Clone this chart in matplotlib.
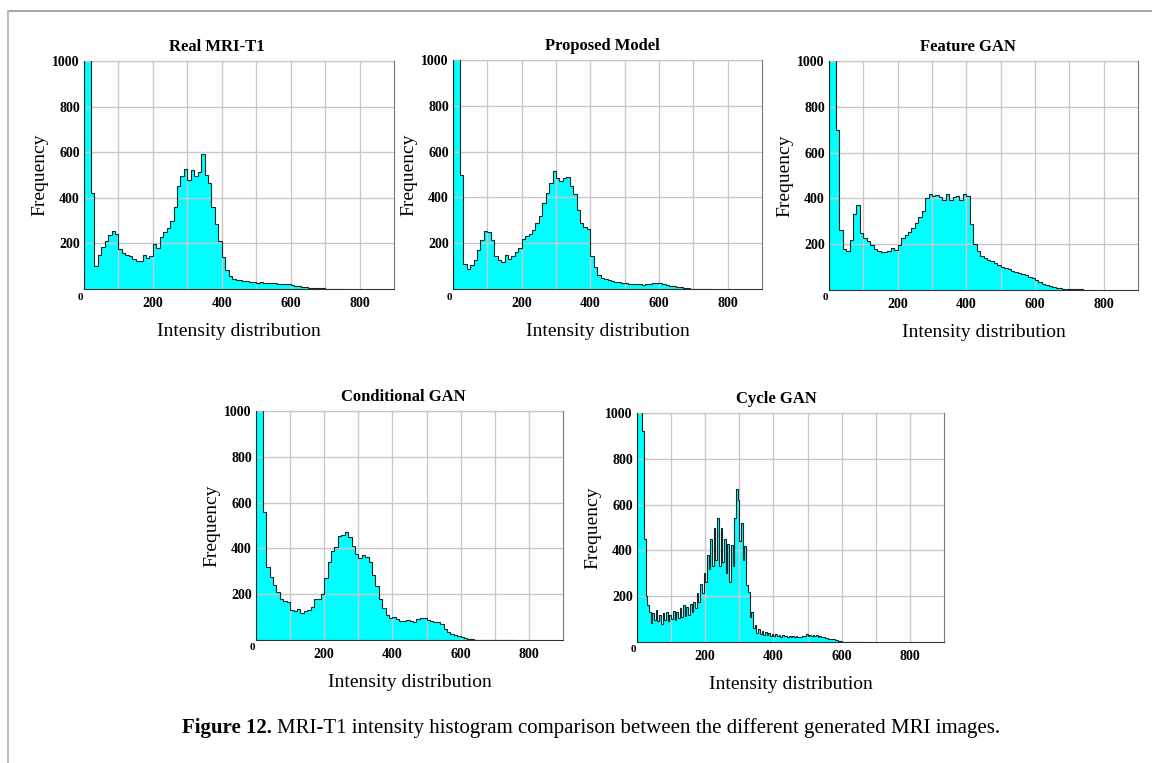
import numpy as np
import matplotlib.pyplot as plt
from matplotlib.lines import Line2D

plt.rcParams['font.family'] = 'Liberation Serif'

# histogram counts (10-unit bins, Cycle GAN 5-unit bins)
real_t1 = [5000, 3000, 420, 100, 150, 185, 212, 235, 255, 240,
           175, 157, 148, 143, 132, 125, 122, 148, 138, 145,
           198, 182, 228, 250, 268, 300, 360, 450, 495, 525,
           480, 520, 495, 515, 590, 500, 465, 360, 285, 210,
           140, 85, 58, 45, 40, 38, 35, 33, 30, 30,
           28, 30, 28, 27, 25, 25, 24, 23, 22, 22,
           18, 15, 12, 10, 8, 6, 5, 4, 3, 3,
           2, 2, 2, 1, 1, 1]

proposed = [5000, 2000, 500, 110, 87, 105, 125, 170, 215, 255,
            250, 215, 145, 128, 120, 150, 130, 145, 160, 180,
            220, 230, 242, 258, 288, 320, 375, 420, 465, 515,
            485, 470, 485, 490, 448, 415, 345, 290, 270, 260,
            145, 98, 62, 48, 42, 38, 36, 32, 30, 27,
            26, 24, 22, 21, 20, 19, 20, 22, 25, 28,
            26, 22, 18, 15, 12, 10, 7, 5, 3, 2,
            1, 1, 1, 1, 1]

feature_gan = [5000, 3000, 700, 260, 180, 172, 220, 330, 370, 250,
               225, 212, 195, 180, 170, 168, 167, 172, 185, 175,
               195, 225, 240, 255, 270, 292, 320, 345, 400, 420,
               412, 415, 405, 395, 420, 395, 405, 410, 395, 420,
               410, 290, 200, 170, 150, 140, 132, 125, 116, 110,
               102, 96, 90, 85, 80, 76, 72, 65, 58, 52,
               44, 36, 28, 20, 16, 13, 10, 7, 6, 5,
               5, 4, 4, 3, 2, 1, 1]

conditional_gan = [5000, 1500, 560, 320, 275, 240, 210, 180, 172, 165,
                   130, 125, 135, 120, 125, 132, 145, 180, 180, 200,
                   270, 340, 390, 405, 455, 460, 470, 450, 410, 375,
                   360, 370, 362, 340, 285, 235, 180, 140, 110, 98,
                   100, 90, 85, 82, 88, 82, 80, 90, 95, 98,
                   88, 82, 80, 80, 68, 48, 34, 26, 20, 16,
                   11, 8, 5, 3, 2, 1, 1, 1, 1, 1,
                   1, 1, 1, 1, 1, 1]

cycle_gan = [5000, 5000, 1500, 920, 450, 200, 160, 130,
             85, 125, 95, 140, 90, 120, 80, 125, 95, 130, 90, 120,
             100, 135, 95, 130, 105, 150, 110, 160, 115, 155,
             120, 165, 130, 175, 150, 215, 175, 255, 215, 300,
             260, 380, 320, 450, 330, 500, 360, 540, 330, 500,
             350, 450, 300, 430, 260, 425, 330, 540, 670, 620,
             440, 520, 360, 420, 250, 220, 110, 130, 60, 75,
             40, 55, 35, 48, 32, 42, 30, 38, 28, 35,
             26, 33, 25, 32, 24, 30, 25, 28, 24, 28,
             22, 26, 22, 25, 20, 24, 22, 26, 28, 33,
             26, 30, 27, 31, 28, 30, 24, 26, 20, 22,
             17, 18, 15, 15, 12, 12, 9, 8, 5, 3,
             1, 1, 1, 1, 1, 1, 1, 1, 1, 1, 1, 1, 1, 1, 1, 1]

titles = ['Real MRI-T1', 'Proposed Model', 'Feature GAN', 'Conditional GAN', 'Cycle GAN']
series = [real_t1, proposed, feature_gan, conditional_gan, cycle_gan]
bin_widths = [10, 10, 10, 10, 5]

x_ticks = [100, 200, 300, 400, 500, 600, 700, 800]
x_labels = ['', '200', '', '400', '', '600', '', '800']
y_ticks = [200, 400, 600, 800, 1000]
y_labels = ['200', '400', '600', '800', '1000']

W, H = 1152, 763
# axes boxes in pixels: left, top, right, bottom
boxes = [(84, 61, 394, 289), (453, 60, 762, 289), (829, 61, 1138, 290),
         (256, 411, 563, 640), (637, 413, 944, 642)]
title_x = [0.43, 0.485, 0.45, 0.48, 0.455]

fig = plt.figure(figsize=(W / 100, H / 100), dpi=100)

for title, vals, bw, (l, t, r, b), tx in zip(titles, series, bin_widths, boxes, title_x):
    ax = fig.add_axes([l / W, 1 - b / H, (r - l) / W, (b - t) / H])
    edges = np.arange(len(vals) + 1) * bw
    ax.stairs(vals, edges, fill=True, color='#00ffff', zorder=1)
    ax.stairs(vals, edges, color='#102a2a', lw=0.8, zorder=3)
    ax.set_xlim(0, 900)
    ax.set_ylim(0, 1000)
    ax.set_xticks(x_ticks)
    ax.set_xticklabels(x_labels, fontsize=10, fontweight='bold')
    ax.set_yticks(y_ticks)
    ax.set_yticklabels(y_labels, fontsize=10, fontweight='bold')
    ax.tick_params(length=0, pad=3)
    ax.tick_params(axis='x', pad=6)
    ax.grid(color='#c8c8c8', lw=1)
    ax.set_axisbelow(False)
    for side in ['left', 'bottom']:
        ax.spines[side].set_color('#333333')
    for side in ['top', 'right']:
        ax.spines[side].set_color('#777777')
    ax.annotate('0', xy=(0, 0), xycoords='axes fraction', xytext=(-4, -8),
                textcoords='offset pixels', ha='center', va='center',
                fontsize=8, fontweight='bold')
    ax.set_title(title, fontsize=12, fontweight='bold', x=tx, pad=7)
    ax.set_ylabel('Frequency', fontsize=14, labelpad=3)
    ax.set_xlabel('Intensity distribution', fontsize=14, labelpad=9)

# caption
fig.text(272 / W, 1 - 728 / H, 'Figure 12.', fontsize=15, fontweight='bold',
         ha='right', va='center')
fig.text(277 / W, 1 - 728 / H,
         'MRI-T1 intensity histogram comparison between the different generated MRI images.',
         fontsize=15, ha='left', va='center')

# page frame lines
fig.add_artist(Line2D([8 / W, 1], [1 - 11 / H, 1 - 11 / H], transform=fig.transFigure,
                      color='#9a9a9a', lw=1.2))
fig.add_artist(Line2D([8 / W, 8 / W], [0, 1 - 11 / H], transform=fig.transFigure,
                      color='#bdbdbd', lw=1.5))

fig.savefig('out.png', dpi=100)
